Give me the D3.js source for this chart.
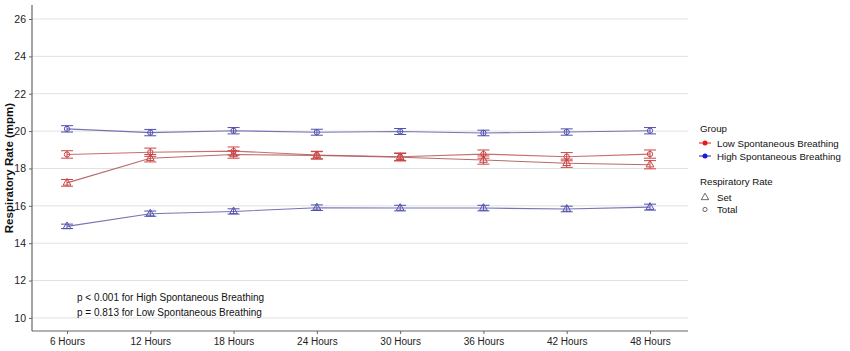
<!DOCTYPE html>
<html><head><meta charset="utf-8">
<script src="https://cdn.jsdelivr.net/npm/d3@7"></script>
<style>body{margin:0;background:#fff;font-family:"Liberation Sans",Arial,sans-serif;}</style>
</head><body><svg id="c" width="850" height="351"></svg>
<script>
const categories = ["6 Hours","12 Hours","18 Hours","24 Hours","30 Hours","36 Hours","42 Hours","48 Hours"];
const yTicks = [10,12,14,16,18,20,22,24,26];
const highTotal = [20.12,19.92,20.02,19.94,19.98,19.9,19.95,20.02];
const highTotalErr = [0.17,0.17,0.17,0.16,0.16,0.15,0.17,0.17];
const highSet = [14.9,15.58,15.7,15.9,15.88,15.88,15.83,15.93];
const highSetErr = [0.12,0.14,0.14,0.15,0.15,0.15,0.15,0.16];
const lowTotal = [18.75,18.87,18.93,18.72,18.63,18.77,18.63,18.77];
const lowTotalErr = [0.2,0.22,0.22,0.2,0.2,0.22,0.22,0.22];
const lowSet = [17.23,18.55,18.75,18.7,18.6,18.45,18.28,18.2];
const lowSetErr = [0.18,0.2,0.2,0.2,0.2,0.22,0.22,0.22];
const pTexts = ["p < 0.001 for High Spontaneous Breathing","p = 0.813 for Low Spontaneous Breathing"];

(function(){
const svg = d3.select("#c");
const pL = 32, pR = 688, pT = 5, pB = 331;
const y = d3.scaleLinear().domain([9.3, 26.75]).range([pB, pT]);
const x = d3.scalePoint().domain(categories).range([67, 650]);

// grid
svg.append("g").selectAll("line").data(yTicks).join("line")
  .attr("x1", pL).attr("x2", pR).attr("y1", d=>y(d)).attr("y2", d=>y(d))
  .attr("stroke", "#d9d9d9").attr("stroke-width", 0.8);

// axes
const ya = svg.append("g").attr("transform", `translate(${pL},0)`)
  .call(d3.axisLeft(y).tickValues(yTicks).tickSize(3).tickPadding(3));
ya.select(".domain").attr("d", `M0,${pT}V${pB}`).attr("stroke", "#666").attr("stroke-width", 1.2);
ya.selectAll(".tick line").attr("stroke", "#666");
ya.selectAll("text").attr("font-size", 10.5).attr("fill", "#222").attr("font-family", "Liberation Sans, Arial, sans-serif");

const xa = svg.append("g").attr("transform", `translate(0,${pB})`)
  .call(d3.axisBottom(x).tickSize(3).tickPadding(4));
xa.select(".domain").attr("d", `M${pL},0H${pR}`).attr("stroke", "#666").attr("stroke-width", 1.2);
xa.selectAll(".tick line").attr("stroke", "#666");
xa.selectAll("text").attr("font-size", 10).attr("fill", "#222").attr("font-family", "Liberation Sans, Arial, sans-serif");

svg.append("text").attr("transform", `translate(13,${(pT+pB)/2}) rotate(-90)`)
  .attr("text-anchor", "middle").attr("font-size", 11.5).attr("font-weight", "bold").attr("fill", "#111")
  .text("Respiratory Rate (mpm)");

const series = [
  {vals: lowTotal, err: lowTotalErr, col: "#cc4444", line: "#c06060", shape: "circle"},
  {vals: lowSet, err: lowSetErr, col: "#cc4444", line: "#b05a5a", shape: "triangle"},
  {vals: highTotal, err: highTotalErr, col: "#5050b0", line: "#6666aa", shape: "circle"},
  {vals: highSet, err: highSetErr, col: "#5050b0", line: "#6666aa", shape: "triangle"}
];
const line = d3.line().x((d,i)=>x(categories[i])).y(d=>y(d));
series.forEach(s=>{
  const g = svg.append("g");
  g.append("path").datum(s.vals).attr("d", line).attr("fill","none").attr("stroke", s.line).attr("stroke-width", 1.1).attr("opacity",0.9);
  const pts = s.vals.map((v,i)=>({v, e:s.err[i], c:categories[i]}));
  const eb = g.selectAll("g.eb").data(pts).join("g");
  eb.append("line").attr("x1", d=>x(d.c)).attr("x2", d=>x(d.c)).attr("y1", d=>y(d.v-d.e)).attr("y2", d=>y(d.v+d.e)).attr("stroke", s.col).attr("stroke-width",1);
  eb.append("line").attr("x1", d=>x(d.c)-6).attr("x2", d=>x(d.c)+6).attr("y1", d=>y(d.v-d.e)).attr("y2", d=>y(d.v-d.e)).attr("stroke", s.col).attr("stroke-width",1);
  eb.append("line").attr("x1", d=>x(d.c)-6).attr("x2", d=>x(d.c)+6).attr("y1", d=>y(d.v+d.e)).attr("y2", d=>y(d.v+d.e)).attr("stroke", s.col).attr("stroke-width",1);
  const sym = d3.symbol().type(s.shape==="circle"?d3.symbolCircle:d3.symbolTriangle).size(s.shape==="circle"?22:26);
  g.selectAll("path.m").data(pts).join("path").attr("class","m")
    .attr("transform", d=>`translate(${x(d.c)},${y(d.v)})`).attr("d", sym())
    .attr("fill","none").attr("stroke", s.col).attr("stroke-width",1);
});

// annotation
svg.selectAll("text.p").data(pTexts).join("text").attr("class","p")
  .attr("x", 77).attr("y", (d,i)=>301+i*14.5).attr("font-size", 10).attr("fill","#111").text(d=>d);

// legend
const lg = svg.append("g").attr("font-size", 9.7).attr("fill","#111");
lg.append("text").attr("x",700).attr("y",132).text("Group");
const groups = [{name:"Low Spontaneous Breathing", col:"#e41a1c"},{name:"High Spontaneous Breathing", col:"#1a1ad0"}];
groups.forEach((gd,i)=>{
  const cy = 143 + i*13;
  lg.append("line").attr("x1",699).attr("x2",711).attr("y1",cy).attr("y2",cy).attr("stroke",gd.col).attr("stroke-width",1);
  lg.append("circle").attr("cx",705).attr("cy",cy).attr("r",2.5).attr("fill",gd.col);
  lg.append("text").attr("x",717).attr("y",cy+3.5).text(gd.name);
});
lg.append("text").attr("x",700).attr("y",185).text("Respiratory Rate");
const shapes = [{name:"Set", t:d3.symbolTriangle, s:24},{name:"Total", t:d3.symbolCircle, s:14}];
shapes.forEach((sd,i)=>{
  const cy = 197.5 + i*12;
  lg.append("path").attr("transform",`translate(705,${cy})`).attr("d", d3.symbol().type(sd.t).size(sd.s)()).attr("fill","none").attr("stroke","#444").attr("stroke-width",0.8);
  lg.append("text").attr("x",717).attr("y",cy+3.5).text(sd.name);
});
})();
</script></body></html>
